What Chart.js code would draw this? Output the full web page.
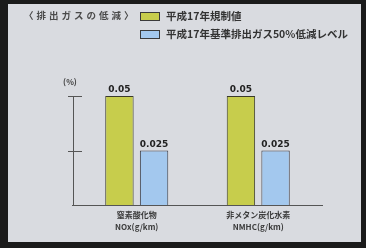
<!DOCTYPE html>
<html>
<head>
<meta charset="utf-8">
<script src="https://cdn.jsdelivr.net/npm/chart.js@4"></script>
<style>
  html, body { margin: 0; padding: 0; background: #1b1b1b; }
  #wrap { width: 366px; height: 248px; }
</style>
</head>
<body>
<div id="wrap"><canvas id="emChart" width="366" height="248"></canvas></div>
<script>
// data
const categories = [['窒素酸化物', 'NOx(g/km)'], ['非メタン炭化水素', 'NMHC(g/km)']];
const seriesNames = ['平成17年規制値', '平成17年基準排出ガス50%低減レベル'];
const regulation = [0.05, 0.05];
const halfLevel = [0.025, 0.025];
const valueLabels = [['0.05', '0.05'], ['0.025', '0.025']];
const yTicks = [0.025, 0.05];
const chartTitle = '〈排出ガスの低減〉';
const unitLabel = '(%)';

const jp = '"Noto Sans CJK JP", "Noto Sans", sans-serif';

// panel, title, legend, axes and value labels
const decor = {
  id: 'decor',
  beforeDraw(chart) {
    const ctx = chart.ctx;
    ctx.save();
    ctx.fillStyle = '#1b1b1b';
    ctx.fillRect(0, 0, chart.width, chart.height);
    ctx.fillStyle = '#d9dbe0';
    ctx.fillRect(8, 4, 353, 238);
    ctx.restore();
  },
  afterDatasetsDraw(chart) {
    const ctx = chart.ctx;
    const x = chart.scales.x, y = chart.scales.y;
    const ds = chart.data.datasets;
    ctx.save();

    // title
    ctx.fillStyle = '#4a4a4a';
    ctx.font = 'bold 9.5px ' + jp;
    ctx.letterSpacing = '3px';
    ctx.textBaseline = 'middle';
    ctx.fillText(chartTitle, 24, 15);
    ctx.letterSpacing = '0px';

    // legend
    ds.forEach((d, i) => {
      const ly = 16 + i * 18;
      ctx.fillStyle = d.backgroundColor;
      ctx.fillRect(140, ly - 4, 20, 9);
      ctx.strokeStyle = '#3a3a3a';
      ctx.lineWidth = 1;
      ctx.strokeRect(140.5, ly - 3.5, 19, 8);
      ctx.fillStyle = '#333';
      ctx.font = 'bold 10.5px ' + jp;
      ctx.fillText(d.label, 166, ly);
    });

    // axes (y axis line sits a little left of the category band)
    const axisX = chart.chartArea.left - 3;
    const right = chart.chartArea.right + 4;
    const base = y.getPixelForValue(0);
    ctx.strokeStyle = '#555';
    ctx.lineWidth = 1;
    ctx.beginPath();
    ctx.moveTo(axisX - 1, Math.round(base) + 0.5);
    ctx.lineTo(right, Math.round(base) + 0.5);
    ctx.moveTo(axisX + 0.5, base);
    ctx.lineTo(axisX + 0.5, y.getPixelForValue(yTicks[yTicks.length - 1]));
    yTicks.forEach(t => {
      const ty = Math.round(y.getPixelForValue(t)) + 0.5;
      ctx.moveTo(axisX - 5, ty);
      ctx.lineTo(axisX + 9, ty);
    });
    ctx.stroke();

    ctx.fillStyle = '#444';
    ctx.font = 'bold 8px ' + jp;
    ctx.textAlign = 'center';
    ctx.fillText(unitLabel, axisX - 3, y.getPixelForValue(yTicks[yTicks.length - 1]) - 14);

    // value labels
    ctx.fillStyle = '#222';
    ctx.font = 'bold 9px "DejaVu Sans", sans-serif';
    ctx.textBaseline = 'alphabetic';
    ds.forEach((d, i) => {
      chart.getDatasetMeta(i).data.forEach((bar, j) => {
        ctx.fillText(valueLabels[i][j], bar.x, bar.y - 4);
      });
    });

    // category labels
    ctx.fillStyle = '#3a3a3a';
    ctx.font = 'bold 8px ' + jp;
    ctx.textBaseline = 'middle';
    categories.forEach((c, j) => {
      const cx = x.getPixelForValue(j);
      ctx.fillText(c[0], cx, base + 10);
      ctx.fillText(c[1], cx, base + 22);
    });
    ctx.restore();
  }
};

new Chart(document.getElementById('emChart'), {
  type: 'bar',
  data: {
    labels: categories.map(c => c.join(' ')),
    datasets: [
      { label: seriesNames[0], data: regulation, backgroundColor: '#c7cd4c', borderColor: '#3a3a2a', borderWidth: 1 },
      { label: seriesNames[1], data: halfLevel, backgroundColor: '#a3c8ee', borderColor: '#3a3a44', borderWidth: 1 }
    ]
  },
  options: {
    responsive: false,
    animation: false,
    events: [],
    layout: { padding: { left: 76, right: 47, top: 96, bottom: 43 } },
    datasets: { bar: { categoryPercentage: 0.57, barPercentage: 0.82 } },
    plugins: { legend: { display: false }, tooltip: { enabled: false } },
    scales: {
      x: { display: false },
      y: { display: false, min: 0, max: 0.05 }
    }
  },
  plugins: [decor]
});
</script>
</body>
</html>
